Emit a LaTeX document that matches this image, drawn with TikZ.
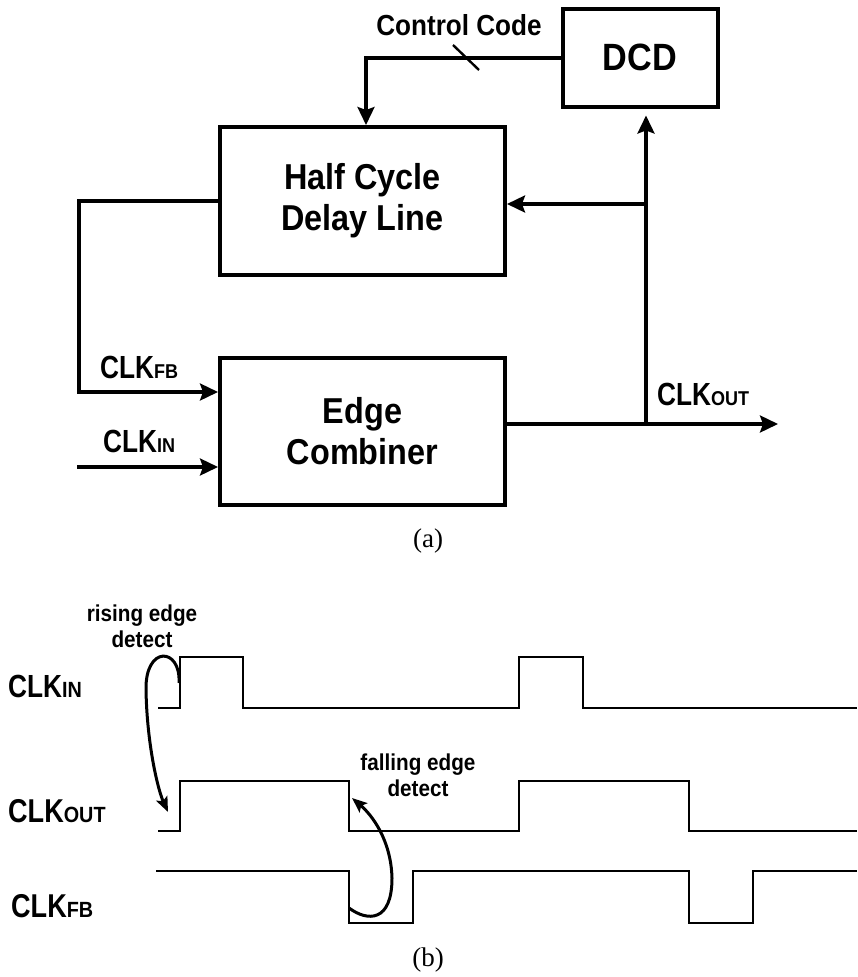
\documentclass[tikz,border=0pt]{standalone}
\usepackage{fontspec}
\setmainfont{Liberation Serif}
\newfontfamily\bsf[FakeStretch=0.9]{Liberation Sans}
\newfontfamily\nsf[FakeStretch=0.82]{Liberation Sans}
\usetikzlibrary{arrows.meta}
\newcommand\myfs[1]{\fontsize{#1}{#1}\selectfont}
\newcommand\clk[2]{CLK{\bsf\bfseries\myfs{#2}#1}}
\tikzset{
  blk/.style={draw, line width=4pt, minimum width=285pt, inner sep=0pt, align=center, font=\bsf\bfseries\myfs{36}},
  wire/.style={line width=3.3pt},
  arr/.style={wire, -{Stealth[length=18pt,width=17pt,inset=3pt]}},
  lbl/.style={font=\nsf\bfseries\myfs{32}, inner sep=0pt},
  note/.style={font=\bsf\bfseries\myfs{23}, inner sep=0pt, align=center},
  wave/.style={line width=2.5pt},
  carr/.style={line width=3pt, -{Stealth[length=15pt,width=12pt,inset=3pt]}},
  captxt/.style={font=\myfs{27}, inner sep=0pt}
}
\begin{document}
\begin{tikzpicture}[x=1pt,y=-1pt]
\path[use as bounding box] (0,0) rectangle (857,977);
% blocks
\node[blk, minimum width=155pt, minimum height=98pt, font=\bsf\bfseries\myfs{38}] (dcd) at (640,57.5) {DCD};
\node[blk, minimum height=148pt] (hc) at (362.5,201) {Half Cycle\\[5pt]Delay Line};
\node[blk, minimum height=147pt] (ec) at (362.5,431.5) {Edge\\[5pt]Combiner};
% coordinates
\coordinate (cc) at (366,58);
\coordinate (s1) at (453,45);
\coordinate (s2) at (479,70);
\coordinate (fbl) at (79,201);
\coordinate (fbd) at (79,392);
\coordinate (inl) at (77,467);
\coordinate (j) at (646,424);
\coordinate (jt) at (646,204);
\coordinate (outr) at (778,424);
% connectors
\draw[arr] (dcd.west |- cc) -- (cc) -- (cc |- hc.north);
\draw[line width=2.4pt] (s1) -- (s2);
\draw[arr] (hc.west |- fbl) -- (fbl) -- (fbd) -- (ec.west |- fbd);
\draw[arr] (inl) -- (ec.west |- inl);
\draw[arr] (ec.east |- j) -- (outr);
\draw[arr, shorten >=7pt] (j) -- (j |- dcd.south);
\draw[arr] (jt) -- (hc.east |- jt);
% labels
\node[font=\bsf\bfseries\myfs{29}, inner sep=0pt] (ccl) at (459,25) {Control Code};
\node[lbl, anchor=base west] (lfb) at (100,378) {\clk{FB}{20}};
\node[lbl, anchor=base west] (lin) at (103,452) {\clk{IN}{20}};
\node[lbl, anchor=base west] (lout) at (657,405) {\clk{OUT}{20}};
\node[captxt] (capa) at (428,541) {(a)};
% timing diagram
\node[note] (re) at (142,626) {rising edge\\[3pt]detect};
\node[note] (fe) at (418,775) {falling edge\\[3pt]detect};
\node[lbl, anchor=base west, font=\nsf\bfseries\myfs{32}] (win) at (8,697) {\clk{IN}{22}};
\node[lbl, anchor=base west, font=\nsf\bfseries\myfs{33}] (wout) at (8,822) {\clk{OUT}{22}};
\node[lbl, anchor=base west, font=\nsf\bfseries\myfs{33}] (wfb) at (11,917) {\clk{FB}{22}};
\draw[wave] (158,708) -- (180,708) -- (180,657) -- (243,657) -- (243,708) -- (519,708) -- (519,657) -- (583,657) -- (583,708) -- (857,708);
\draw[wave] (158,831) -- (180,831) -- (180,781) -- (349,781) -- (349,831) -- (519,831) -- (519,781) -- (689,781) -- (689,831) -- (857,831);
\draw[wave] (156,871) -- (349,871) -- (349,923) -- (413,923) -- (413,871) -- (689,871) -- (689,923) -- (753,923) -- (753,871) -- (857,871);
\coordinate (ra) at (179,683);
\coordinate (rb) at (168,812);
\draw[carr] (ra) .. controls (181,647) and (145,645) .. (146,690) .. controls (147,745) and (158,790) .. (rb);
\coordinate (fa) at (349,908);
\coordinate (fb) at (352,798);
\draw[carr] (fa) .. controls (368,922) and (392,922) .. (392,878) .. controls (391,840) and (372,815) .. (fb);
\node[captxt] (capb) at (428,960) {(b)};
\end{tikzpicture}
\end{document}
